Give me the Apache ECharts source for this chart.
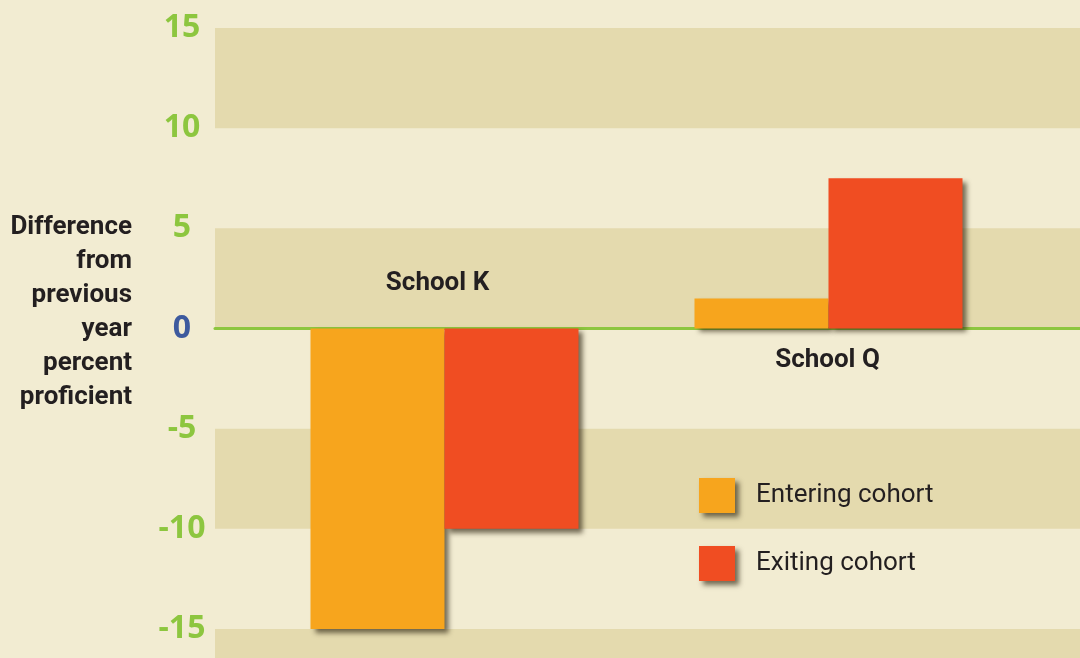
<!DOCTYPE html>
<html>
<head>
<meta charset="utf-8">
<script src="https://cdn.jsdelivr.net/npm/echarts@6/dist/echarts.min.js"></script>
<style>
html,body{margin:0;padding:0;background:#f2ecd2;}
#chart{width:1080px;height:658px;}
</style>
</head>
<body>
<div id="chart"></div>
<script>
const categories = ['School K', 'School Q'];
const entering = [-15, 1.5];
const exiting = [-10, 7.5];
const labelPos = [2.27, -1.58];
const tickValues = [-15, -10, -5, 0, 5, 10, 15];
const seriesNames = ['Entering cohort', 'Exiting cohort'];

const narrow = "Roboto, 'Liberation Sans', sans-serif";
const YMIN = -16.45, YMAX = 16.4;
const darkBand = '#e4daae';

const chart = echarts.init(document.getElementById('chart'));
const shadow = {shadowColor: 'rgba(45,35,15,0.65)', shadowBlur: 5, shadowOffsetX: 4, shadowOffsetY: 4};

chart.setOption({
  backgroundColor: '#f2ecd2',
  animation: false,
  grid: [
    {left: 215, right: 0, top: 0, bottom: 0, outerBoundsMode: 'none', containLabel: false},
    {left: 252.5, width: 768, top: 0, bottom: 0, outerBoundsMode: 'none', containLabel: false}
  ],
  xAxis: [
    {gridIndex: 0, type: 'value', min: 0, max: 1, show: true, z: 3,
     axisLine: {show: true, onZero: true, lineStyle: {color: '#8dc63f', width: 3}},
     axisTick: {show: false}, axisLabel: {show: false}, splitLine: {show: false}},
    {gridIndex: 1, type: 'category', data: categories, show: false}
  ],
  yAxis: [
    {gridIndex: 0, type: 'value', min: YMIN, max: YMAX,
     axisLine: {show: false}, axisTick: {show: false}, splitLine: {show: false},
     axisLabel: {
       customValues: tickValues, align: 'center', margin: 33,
       fontFamily: "'Open Sans', sans-serif", fontWeight: 'bold', fontSize: 32,
       color: v => (Math.abs(Number(v)) < 1e-9 ? '#3d5a9e' : '#8dc63f')
     },
     name: 'Difference\nfrom\nprevious\nyear\npercent\nproficient\n ',
     nameLocation: 'middle', nameRotate: 0, nameGap: 83,
     nameTextStyle: {align: 'right', verticalAlign: 'middle', fontFamily: narrow, fontWeight: 'bold',
                     fontSize: 26, lineHeight: 34, color: '#231f20'}
    },
    {gridIndex: 1, type: 'value', min: YMIN, max: YMAX, show: false, splitLine: {show: false}}
  ],
  legend: {
    data: seriesNames, orient: 'vertical', left: 699, top: 478, padding: 0,
    itemWidth: 36, itemHeight: 35, itemGap: 33, icon: 'rect',
    itemStyle: shadow,
    textStyle: {fontFamily: narrow, fontSize: 26, color: '#231f20', padding: [4, 0, 0, 16]}
  },
  series: [
    {type: 'line', xAxisIndex: 0, yAxisIndex: 0, data: [], silent: true,
     markArea: {silent: true, itemStyle: {color: darkBand},
       data: [
         [{yAxis: 10}, {yAxis: 15}],
         [{yAxis: 0}, {yAxis: 5}],
         [{yAxis: -10}, {yAxis: -5}],
         [{yAxis: YMIN}, {yAxis: -15}]
       ]}
    },
    {name: seriesNames[0], type: 'bar', xAxisIndex: 1, yAxisIndex: 1, data: entering,
     barWidth: 134, barGap: '0%', itemStyle: Object.assign({color: '#f7a51d'}, shadow), z: 4},
    {name: seriesNames[1], type: 'bar', xAxisIndex: 1, yAxisIndex: 1, data: exiting,
     barWidth: 134, barGap: '0%', itemStyle: Object.assign({color: '#f04d22'}, shadow), z: 5},
    {type: 'scatter', xAxisIndex: 1, yAxisIndex: 1, symbolSize: 0, silent: true,
     itemStyle: {color: '#231f20', opacity: 1},
     data: categories.map((c, i) => ({value: [i, labelPos[i]], name: c,
       label: {offset: [i === 0 ? -7 : -1, 0]}})),
     label: {show: true, position: 'inside', formatter: p => p.name,
             fontFamily: narrow, fontWeight: 'bold', fontSize: 26, color: '#231f20',
             textBorderWidth: 0, opacity: 1},
     z: 6}
  ]
});
</script>
</body>
</html>
